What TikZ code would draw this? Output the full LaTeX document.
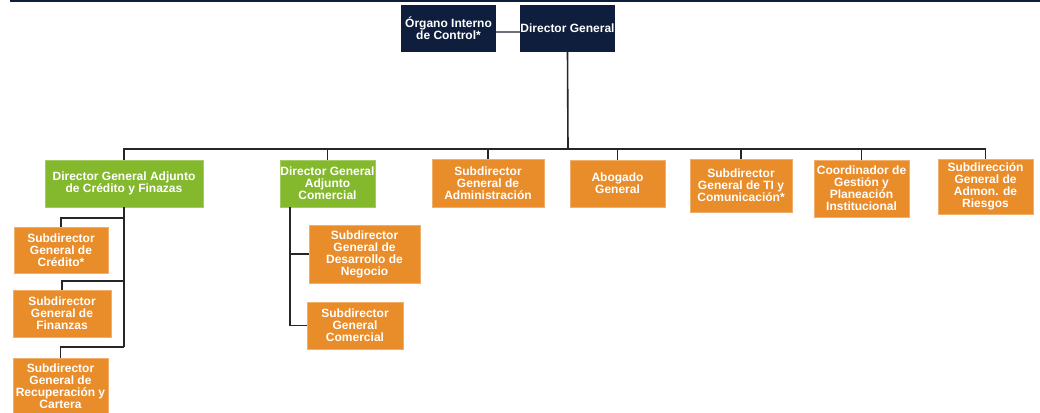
\documentclass[tikz,border=0pt]{standalone}
\usepackage{fontspec}
\setmainfont{Liberation Sans}
\definecolor{navy}{HTML}{0F1E3C}
\definecolor{dgreen}{HTML}{84B92E}
\definecolor{orng}{HTML}{E98C2A}
\definecolor{conn}{HTML}{262626}
\begin{document}
\begin{tikzpicture}[x=1pt,y=-1pt,
  box/.style={inner sep=0pt, align=center, text=white,
    font=\fontsize{12}{12}\selectfont\bfseries},
  navybox/.style={box, fill=navy},
  greenbox/.style={box, fill=dgreen, draw=dgreen!75!white, line width=0.6pt},
  orangebox/.style={box, fill=orng, draw=orng!70!white, line width=0.6pt},
  link/.style={draw=conn, line width=1.6pt},
  sidelink/.style={draw=black!45!navy!60!white, line width=1.8pt}]
\useasboundingbox (0,0) rectangle (1040,412);
\clip (0,0) rectangle (1040,412);
\fill[navy] (10,0) rectangle (1040,2);

% level 1
\node[navybox, minimum width=95pt, minimum height=47pt] (oic) at (448.5,28.5) {Órgano Interno\\de Control*};
\node[navybox, minimum width=95pt, minimum height=47pt] (dg) at (567.5,28.5) {Director General};

% level 2
\node[greenbox, minimum width=158pt, minimum height=47pt] (dgacf) at (124,183.5) {Director General Adjunto\\de Crédito y Finazas};
\node[greenbox, minimum width=95pt, minimum height=47pt] (dgac) at (327.5,183.5) {Director General\\Adjunto\\Comercial};
\node[orangebox, minimum width=112pt, minimum height=48pt] (adm) at (488,183) {Subdirector\\General de\\Administración};
\node[orangebox, minimum width=95pt, minimum height=47pt] (abo) at (617.5,183.5) {Abogado\\General};
\node[orangebox, minimum width=102pt, minimum height=53pt] (ti) at (741,185.5) {Subdirector\\General de TI y\\Comunicación*};
\node[orangebox, minimum width=95pt, minimum height=57pt] (coord) at (861.5,188.5) {Coordinador de\\Gestión y\\Planeación\\Institucional};
\node[orangebox, minimum width=95pt, minimum height=55pt] (ries) at (985.5,186.5) {Subdirección\\General de\\Admon. de\\Riesgos};

% level 3
\node[orangebox, minimum width=94pt, minimum height=46pt] (cred) at (61,250) {Subdirector\\General de\\Crédito*};
\node[orangebox, minimum width=98pt, minimum height=47pt] (fin) at (62,313.5) {Subdirector\\General de\\Finanzas};
\node[orangebox, minimum width=95pt, minimum height=56pt] (rec) at (60.5,386) {Subdirector\\General de\\Recuperación y\\Cartera};
\node[orangebox, minimum width=111pt, minimum height=58pt] (desn) at (364.5,254) {Subdirector\\General de\\Desarrollo de\\Negocio};
\node[orangebox, minimum width=96pt, minimum height=47pt] (com) at (355,325.5) {Subdirector\\General\\Comercial};

% connectors
\draw[sidelink] ([yshift=-3.5pt]oic.east) -- ([yshift=-3.5pt]dg.west);
\coordinate (bus) at (568,149);
\draw[link] (dg.south) -- (bus);
\draw[link] (dgacf.north) |- (ries.north |- bus) -- (ries.north);
\foreach \n in {dgac,adm,abo,ti,coord}
  \draw[link] (\n.north |- bus) -- (\n.north);

\coordinate (cfend) at (124,347);
\draw[link] (dgacf.south) -- (cfend);
\draw[link] (cred.north) |- (dgacf.south |- 0,218);
\draw[link] (fin.north) |- (dgacf.south |- 0,281);
\draw[link] (rec.north) |- (cfend);

\coordinate (ctop) at (290,207);
\draw[link] (ctop) |- (com.west);
\draw[link] (desn.west) -- (ctop |- desn.west);
\end{tikzpicture}
\end{document}
